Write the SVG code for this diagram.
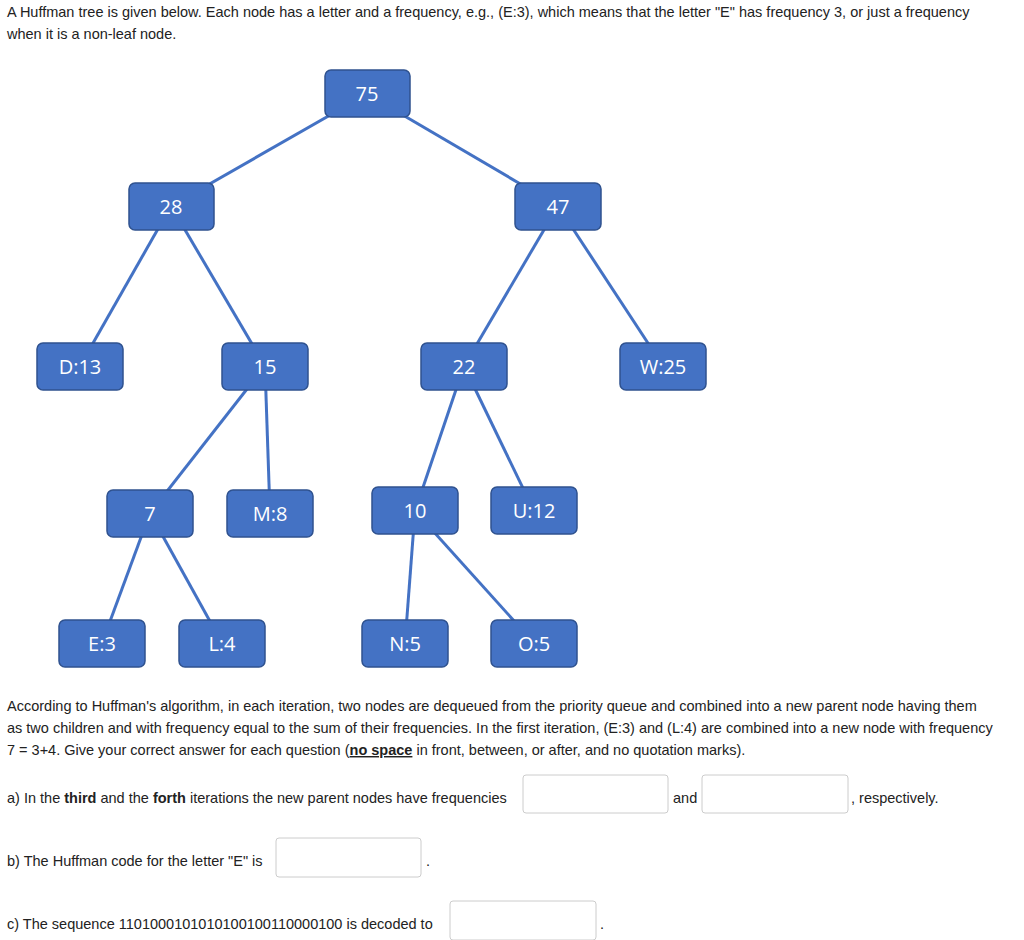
<svg xmlns="http://www.w3.org/2000/svg" width="1024" height="940" viewBox="0 0 1024 940">
<style>
.t{font-family:"Liberation Sans",Arial,sans-serif;font-size:14.5px;fill:#222}
.n rect{fill:#4472C4;stroke:#2F528F;stroke-width:1.5}
.n text{font-family:"Open Sans","Liberation Sans",sans-serif;font-size:20px;fill:#fff;text-anchor:middle}
.e line{stroke:#4472C4;stroke-width:3}
.box{fill:#fff;stroke:#ccc;stroke-width:1}
</style>
<rect width="1024" height="940" fill="#fff"/>
<text class="t" x="7" y="17">A Huffman tree is given below. Each node has a letter and a frequency, e.g., (E:3), which means that the letter "E" has frequency 3, or just a frequency</text>
<text class="t" x="7" y="39">when it is a non-leaf node.</text>
<g class="e">
<line x1="367" y1="94" x2="171" y2="206"/>
<line x1="367" y1="94" x2="558" y2="206"/>
<line x1="171" y1="206" x2="80" y2="366"/>
<line x1="171" y1="206" x2="265" y2="366"/>
<line x1="558" y1="206" x2="464" y2="366"/>
<line x1="558" y1="206" x2="663" y2="366"/>
<line x1="265" y1="366" x2="150" y2="513"/>
<line x1="265" y1="366" x2="270" y2="513"/>
<line x1="464" y1="366" x2="415" y2="511"/>
<line x1="464" y1="366" x2="534" y2="511"/>
<line x1="150" y1="513" x2="102" y2="643"/>
<line x1="150" y1="513" x2="222" y2="643"/>
<line x1="415" y1="511" x2="405" y2="643"/>
<line x1="415" y1="511" x2="534" y2="643"/>
</g>
<g id="n75" class="n"><rect x="325" y="70" width="85" height="47" rx="6"/><text x="367" y="101">75</text></g>
<g id="n28" class="n"><rect x="129" y="183" width="85" height="47" rx="6"/><text x="171" y="214">28</text></g>
<g id="n47" class="n"><rect x="515" y="183" width="86" height="47" rx="6"/><text x="558" y="214">47</text></g>
<g id="nD13" class="n"><rect x="37" y="343" width="86" height="47" rx="6"/><text x="80" y="374">D:13</text></g>
<g id="n15" class="n"><rect x="222" y="343" width="86" height="47" rx="6"/><text x="265" y="374">15</text></g>
<g id="n22" class="n"><rect x="421" y="343" width="86" height="47" rx="6"/><text x="464" y="374">22</text></g>
<g id="nW25" class="n"><rect x="620" y="343" width="86" height="47" rx="6"/><text x="663" y="374">W:25</text></g>
<g id="n7" class="n"><rect x="107" y="490" width="86" height="47" rx="6"/><text x="150" y="521">7</text></g>
<g id="nM8" class="n"><rect x="227" y="490" width="86" height="47" rx="6"/><text x="270" y="521">M:8</text></g>
<g id="n10" class="n"><rect x="372" y="487" width="86" height="47" rx="6"/><text x="415" y="518">10</text></g>
<g id="nU12" class="n"><rect x="491" y="487" width="86" height="47" rx="6"/><text x="534" y="518">U:12</text></g>
<g id="nE3" class="n"><rect x="59" y="620" width="86" height="47" rx="6"/><text x="102" y="651">E:3</text></g>
<g id="nL4" class="n"><rect x="179" y="620" width="86" height="47" rx="6"/><text x="222" y="651">L:4</text></g>
<g id="nN5" class="n"><rect x="362" y="620" width="86" height="47" rx="6"/><text x="405" y="651">N:5</text></g>
<g id="nO5" class="n"><rect x="491" y="620" width="86" height="47" rx="6"/><text x="534" y="651">O:5</text></g>
<text class="t" x="7" y="711">According to Huffman's algorithm, in each iteration, two nodes are dequeued from the priority queue and combined into a new parent node having them</text>
<text class="t" x="7" y="733">as two children and with frequency equal to the sum of their frequencies. In the first iteration, (E:3) and (L:4) are combined into a new node with frequency</text>
<text class="t" x="7" y="755">7 = 3+4. Give your correct answer for each question (<tspan font-weight="bold" text-decoration="underline">no space</tspan> in front, between, or after, and no quotation marks).</text>
<text class="t" x="7" y="803">a) In the <tspan font-weight="bold">third</tspan> and the <tspan font-weight="bold">forth</tspan> iterations the new parent nodes have frequencies</text>
<rect class="box" x="523" y="775" width="145" height="38" rx="3"/>
<text class="t" x="673" y="803">and</text>
<rect class="box" x="702" y="775" width="146" height="38" rx="3"/>
<text class="t" x="851" y="803">, respectively.</text>
<text class="t" x="7" y="866">b) The Huffman code for the letter "E" is</text>
<rect class="box" x="276" y="838" width="145" height="39" rx="3"/>
<text class="t" x="426" y="866">.</text>
<text class="t" x="7" y="929">c) The sequence 1101000101010100100110000100 is decoded to</text>
<rect class="box" x="450" y="901" width="146" height="39" rx="3"/>
<text class="t" x="600" y="929">.</text>
</svg>
